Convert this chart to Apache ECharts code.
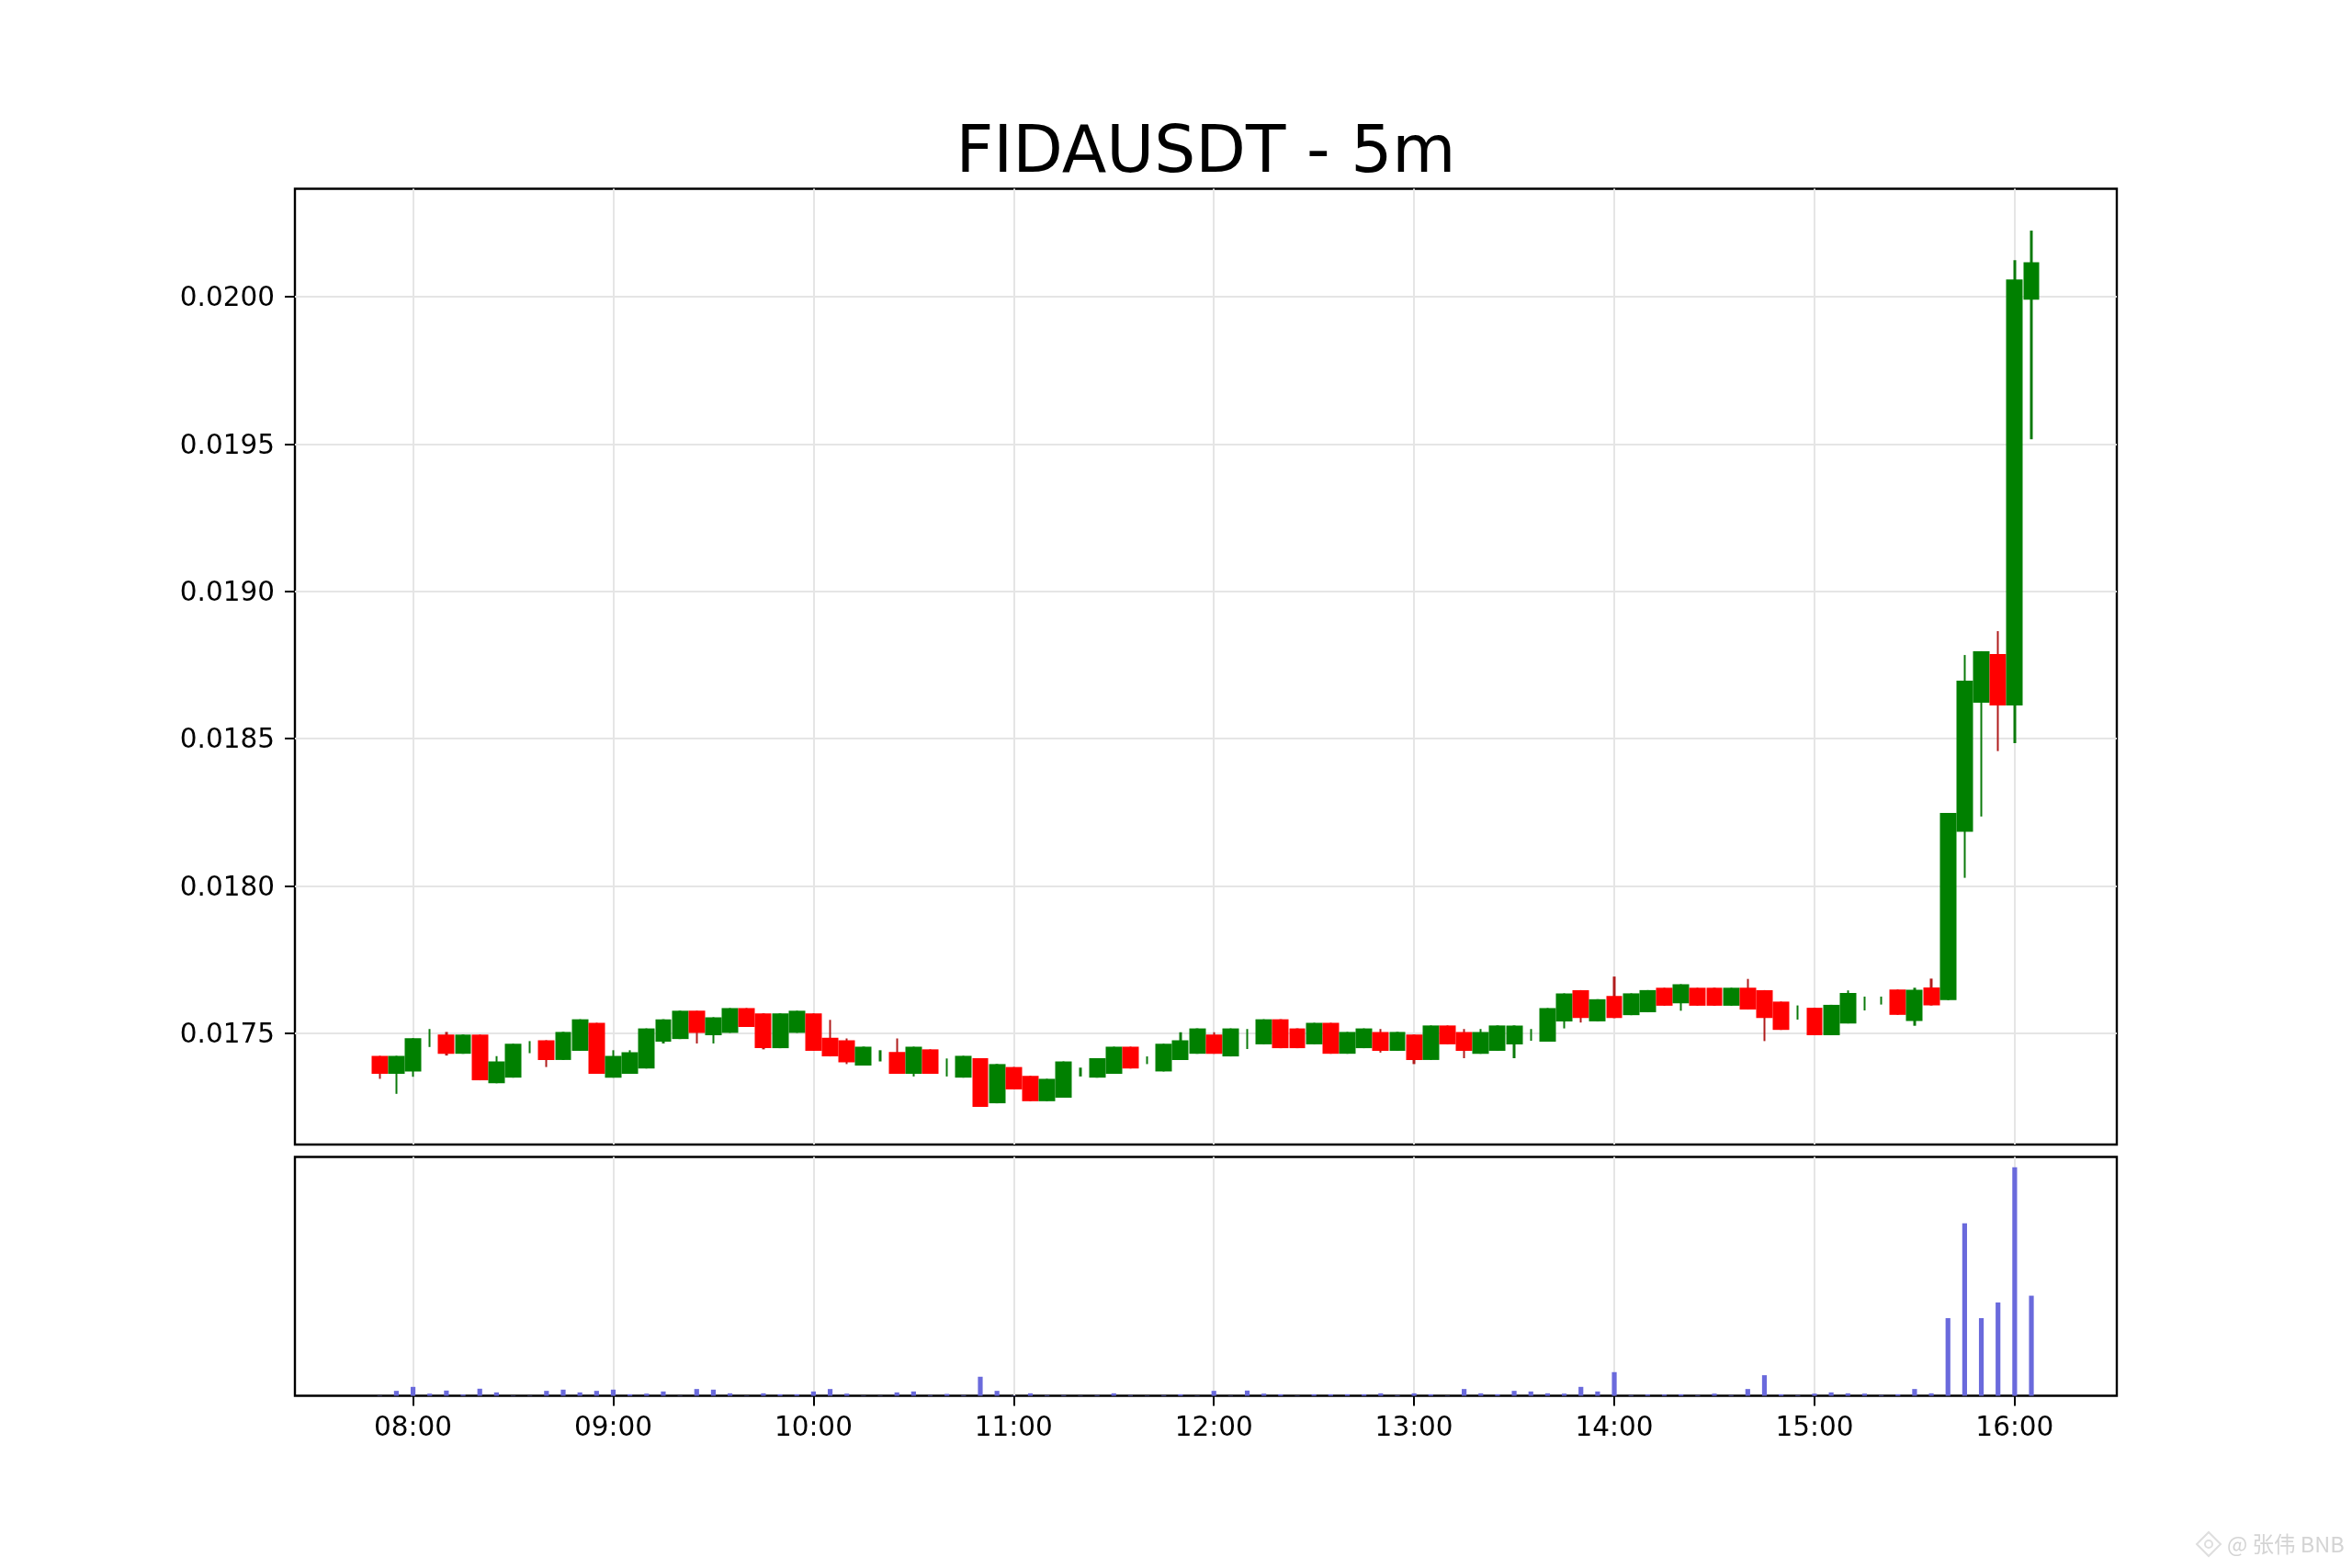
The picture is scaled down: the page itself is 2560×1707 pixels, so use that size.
<!DOCTYPE html>
<html>
<head>
<meta charset="utf-8">
<style>html,body{margin:0;padding:0;background:#fff}#c{width:2560px;height:1707px}</style>
<script src="https://cdn.jsdelivr.net/npm/echarts@6/dist/echarts.min.js"></script>
</head>
<body>
<div id="c"></div>
<script>
const times = ["07:50","07:55","08:00","08:05","08:10","08:15","08:20","08:25","08:30","08:35","08:40","08:45","08:50","08:55","09:00","09:05","09:10","09:15","09:20","09:25","09:30","09:35","09:40","09:45","09:50","09:55","10:00","10:05","10:10","10:15","10:20","10:25","10:30","10:35","10:40","10:45","10:50","10:55","11:00","11:05","11:10","11:15","11:20","11:25","11:30","11:35","11:40","11:45","11:50","11:55","12:00","12:05","12:10","12:15","12:20","12:25","12:30","12:35","12:40","12:45","12:50","12:55","13:00","13:05","13:10","13:15","13:20","13:25","13:30","13:35","13:40","13:45","13:50","13:55","14:00","14:05","14:10","14:15","14:20","14:25","14:30","14:35","14:40","14:45","14:50","14:55","15:00","15:05","15:10","15:15","15:20","15:25","15:30","15:35","15:40","15:45","15:50","15:55","16:00","16:05"];
const opens = [0.017424,0.017363,0.017371,0.017484,0.017496,0.017431,0.017496,0.017331,0.01735,0.01745,0.017477,0.01741,0.017441,0.017536,0.01735,0.017363,0.017381,0.017472,0.017481,0.017577,0.017494,0.017502,0.017586,0.017568,0.01745,0.017502,0.017568,0.017485,0.017477,0.017391,0.01742,0.017437,0.017363,0.017446,0.01738,0.01735,0.017416,0.017263,0.017386,0.017356,0.01727,0.017282,0.01737,0.01735,0.017363,0.017455,0.01741,0.017371,0.01741,0.017431,0.017496,0.017422,0.01748,0.017463,0.017548,0.017517,0.017463,0.017536,0.017431,0.01745,0.017505,0.017441,0.017496,0.01741,0.017527,0.017505,0.017431,0.017441,0.017463,0.017495,0.017472,0.017541,0.017647,0.017541,0.017627,0.017562,0.017572,0.017655,0.017602,0.017655,0.017655,0.017594,0.017655,0.017647,0.017608,0.01757,0.017587,0.017494,0.017534,0.0176,0.01761,0.017649,0.017542,0.017656,0.017613,0.018184,0.018622,0.018787,0.018613,0.01999];
const closes = [0.017363,0.017424,0.017484,0.017484,0.017431,0.017496,0.017341,0.017405,0.017465,0.01745,0.01741,0.017505,0.017548,0.017363,0.017424,0.017436,0.017517,0.017548,0.017577,0.017502,0.017555,0.017586,0.017522,0.01745,0.017568,0.017577,0.017441,0.017422,0.017402,0.017455,0.01742,0.017363,0.017455,0.017363,0.01738,0.017424,0.017251,0.017396,0.01731,0.01727,0.017346,0.017405,0.01737,0.017416,0.017455,0.017381,0.01741,0.017465,0.017477,0.017517,0.017431,0.017517,0.01748,0.017548,0.01745,0.01745,0.017536,0.017431,0.017505,0.017517,0.017441,0.017505,0.01741,0.017527,0.017463,0.017441,0.017505,0.017527,0.017527,0.017495,0.017586,0.017636,0.017552,0.017616,0.017552,0.017636,0.017647,0.017594,0.017667,0.017594,0.017594,0.017655,0.017581,0.017552,0.017512,0.01757,0.017494,0.017597,0.017637,0.0176,0.01761,0.017563,0.017648,0.017595,0.018248,0.018697,0.018797,0.018613,0.020058,0.020117];
const lows = [0.017346,0.017295,0.017353,0.017454,0.017425,0.017431,0.017341,0.017331,0.01735,0.017433,0.017386,0.01741,0.017441,0.017363,0.01735,0.017363,0.017381,0.017466,0.017481,0.017466,0.017466,0.017502,0.017522,0.017446,0.01745,0.017502,0.017441,0.017422,0.017396,0.017391,0.017405,0.017363,0.017354,0.017363,0.017354,0.01735,0.017251,0.017263,0.01731,0.01727,0.01727,0.017282,0.017354,0.01735,0.017363,0.017381,0.017396,0.017371,0.01741,0.017431,0.017431,0.017422,0.017447,0.017463,0.01745,0.01745,0.017463,0.017431,0.017431,0.01745,0.017435,0.017441,0.017396,0.01741,0.017463,0.017416,0.017431,0.017441,0.017416,0.017475,0.017472,0.017517,0.017537,0.017541,0.017552,0.017562,0.017572,0.017594,0.017577,0.017594,0.017594,0.017594,0.017581,0.017474,0.017512,0.017547,0.017494,0.017494,0.017534,0.017578,0.017598,0.017563,0.017526,0.017595,0.017613,0.018028,0.018236,0.018458,0.018485,0.019516];
const highs = [0.017424,0.017424,0.017484,0.017515,0.017505,0.017496,0.017496,0.017423,0.017465,0.017474,0.017477,0.017505,0.017548,0.017536,0.017443,0.017443,0.017517,0.017548,0.017577,0.017577,0.017555,0.017586,0.017586,0.017568,0.017568,0.017577,0.017568,0.017546,0.017483,0.017455,0.017443,0.017483,0.017455,0.017446,0.017415,0.017424,0.017416,0.017396,0.017386,0.017356,0.017346,0.017405,0.017384,0.017416,0.017455,0.017455,0.017422,0.017465,0.017504,0.017517,0.017504,0.017517,0.017515,0.017548,0.017548,0.017517,0.017536,0.017536,0.017505,0.017517,0.017515,0.017505,0.017496,0.017527,0.017527,0.017515,0.017515,0.017527,0.017527,0.017515,0.017586,0.017636,0.017647,0.017616,0.017693,0.017636,0.017647,0.017655,0.017667,0.017655,0.017655,0.017655,0.017685,0.017647,0.017608,0.017595,0.017587,0.017597,0.017646,0.017625,0.017625,0.017649,0.017655,0.017686,0.018248,0.018784,0.018797,0.018865,0.020124,0.020224];
const volumes = [1,16,29,7,17,4,23,11,1,1,16,20,11,16,20,5,7,14,1,22,20,8,1,8,5,5,14,22,7,1,1,11,14,2,6,2,62,16,1,8,2,2,1,2,8,2,1,2,5,1,16,1,17,7,5,1,5,5,5,5,8,2,8,5,1,22,8,5,16,14,8,7,29,14,77,2,4,4,5,2,7,2,22,67,5,2,7,11,8,7,2,5,22,8,253,562,253,304,744,326];
const yTicks = [0.0175,0.018,0.0185,0.019,0.0195,0.02];
const xTickLabels = ["08:00","09:00","10:00","11:00","12:00","13:00","14:00","15:00","16:00"];

const toMin = s => { const [h,m] = s.split(":").map(Number); return h*60+m; };
const xs = times.map(toMin);
const xTicks = xTickLabels.map(toMin);
const X_MIN = 444.6, X_MAX = 990.6;
const Y_MIN = 0.017123, Y_MAX = 0.020366, V_MAX = 778;

const FONT = "DejaVu Sans";
const GRID_L = 321, GRID_R = 256;

const bodyData = xs.map((x,i)=>[x,opens[i],closes[i],lows[i],highs[i]]);
const wickData = xs.map((x,i)=> closes[i]>=opens[i]
  ? [x,lows[i],highs[i],lows[i],highs[i]]
  : [x,highs[i],lows[i],lows[i],highs[i]]);
const volData = xs.map((x,i)=>[x,volumes[i]]);

const chart = echarts.init(document.getElementById('c'), null, {renderer:'canvas', width:2560, height:1707});
const gridLine = {show:true, lineStyle:{color:'#e5e5e5', width:2}};
chart.setOption({
  animation:false,
  backgroundColor:'#ffffff',
  title:{
    text:'FIDAUSDT - 5m', left:1307.5, top:128, textAlign:'center',
    textStyle:{fontFamily:FONT, fontSize:71, fontWeight:'normal', color:'#000'}
  },
  grid:[
    {left:GRID_L, right:GRID_R, top:205.5, height:1040.5, show:true, borderColor:'#000', borderWidth:2.4, backgroundColor:'transparent', containLabel:false},
    {left:GRID_L, right:GRID_R, top:1259.5, height:260, show:true, borderColor:'#000', borderWidth:2.4, backgroundColor:'transparent', containLabel:false}
  ],
  xAxis:[
    {type:'value', gridIndex:0, min:X_MIN, max:X_MAX,
     axisLine:{show:false}, axisTick:{show:false, customValues:xTicks},
     axisLabel:{show:false, customValues:xTicks}, splitLine:gridLine},
    {type:'value', gridIndex:1, min:X_MIN, max:X_MAX,
     axisLine:{show:false},
     axisTick:{show:true, length:11, customValues:xTicks, lineStyle:{color:'#000', width:2}},
     axisLabel:{show:true, customValues:xTicks, margin:21, color:'#000', fontFamily:FONT, fontSize:29.5,
       formatter:v=>xTickLabels[xTicks.indexOf(v)]},
     splitLine:gridLine}
  ],
  yAxis:[
    {type:'value', gridIndex:0, min:Y_MIN, max:Y_MAX,
     axisLine:{show:false},
     axisTick:{show:true, length:11, customValues:yTicks, lineStyle:{color:'#000', width:2}},
     axisLabel:{show:true, customValues:yTicks, margin:22, color:'#000', fontFamily:FONT, fontSize:29.5,
       formatter:v=>'{a|'+v.toFixed(4)+'}',
       rich:{a:{color:'#000', fontFamily:FONT, fontSize:29.5, padding:[5,0,0,0]}}},
     splitLine:gridLine},
    {type:'value', gridIndex:1, min:0, max:V_MAX, show:false, splitLine:{show:false}}
  ],
  series:[
    {name:'Wicks', type:'candlestick', xAxisIndex:0, yAxisIndex:0, barWidth:2.8,
     encode:{x:0,y:[1,2,3,4]}, data:wickData, silent:true,
     itemStyle:{color:'#0b7a0b', color0:'#b01c1c', borderColor:'#0b7a0b', borderColor0:'#b01c1c', borderWidth:0}},
    {name:'FIDAUSDT', type:'candlestick', xAxisIndex:0, yAxisIndex:0, barWidth:18.4,
     encode:{x:0,y:[1,2,3,4]}, data:bodyData,
     itemStyle:{color:'#008000', color0:'#ff0000', borderColor:'#008000', borderColor0:'#ff0000', borderWidth:0}},
    {name:'Volume', type:'bar', xAxisIndex:1, yAxisIndex:1, barWidth:5.2,
     encode:{x:0,y:1}, data:volData,
     itemStyle:{color:'#6a6adc'}}
  ],
  graphic:[
    {type:'text', left:2424, top:1669, silent:true,
     style:{text:'@ 张伟 BNB', fill:'#d4d4d4', font:'23.5px "Noto Sans CJK SC"'}},
    {type:'polygon', silent:true,
     shape:{points:[[2404,1668],[2417,1681],[2404,1694],[2391,1681]]},
     style:{fill:'none', stroke:'#dedede', lineWidth:2}},
    {type:'circle', silent:true, shape:{cx:2404,cy:1681,r:4},
     style:{fill:'none', stroke:'#dedede', lineWidth:2}}
  ]
});
</script>
</body>
</html>
